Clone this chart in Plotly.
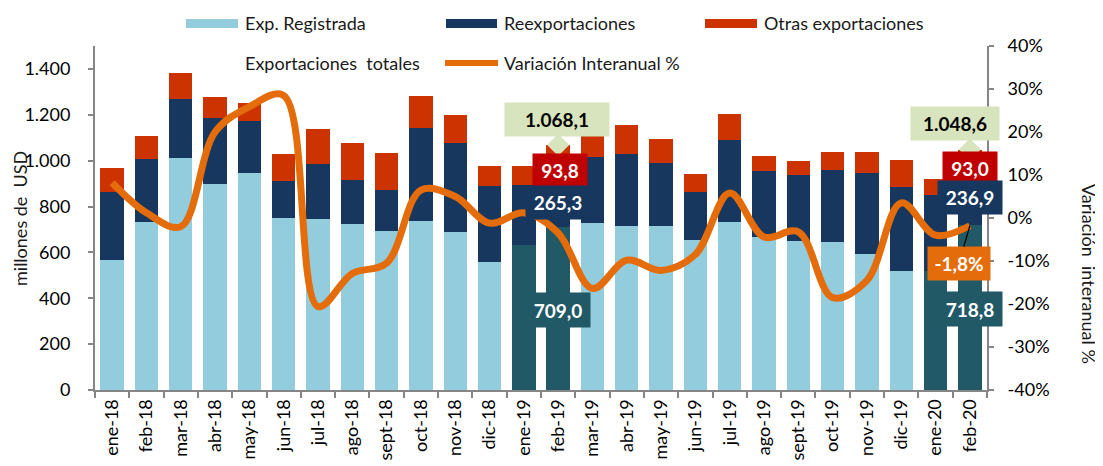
import plotly.graph_objects as go

# --- data -------------------------------------------------------------------
meses = ["ene-18", "feb-18", "mar-18", "abr-18", "may-18", "jun-18", "jul-18",
         "ago-18", "sept-18", "oct-18", "nov-18", "dic-18", "ene-19", "feb-19",
         "mar-19", "abr-19", "may-19", "jun-19", "jul-19", "ago-19", "sept-19",
         "oct-19", "nov-19", "dic-19", "ene-20", "feb-20"]

# millones de USD
registrada = [567, 732, 1010, 897, 947, 751, 745, 723, 693, 738, 687, 557, 633,
              709.0, 730, 713, 713, 655, 732, 669, 650, 646, 593, 519, 520, 718.8]
reexportaciones = [295, 276, 261, 287, 224, 159, 240, 193, 179, 405, 390, 334, 261,
                   265.3, 285, 316, 275, 209, 357, 285, 287, 312, 354, 367, 330, 236.9]
otras = [107, 101, 113, 95, 79, 117, 152, 159, 163, 140, 123, 84, 81,
         93.8, 142, 128, 106, 76, 114, 67, 60, 78, 89, 119, 70, 93.0]

# variación interanual de las exportaciones totales, %
variacion = [8.2, 1.2, -2.0, 20.0, 25.9, 28.5, -20.6, -12.9, -10.5, 6.5, 5.0, -1.2,
             1.2, -3.5, -16.4, -9.8, -12.2, -8.5, 5.8, -4.4, -3.2, -18.5, -14.5,
             3.5, -4.0, -1.8]

# meses con barra destacada; meses con etiquetas y su total publicado
destacados = ["ene-19", "feb-19", "ene-20", "feb-20"]
etiquetados = ["feb-19", "feb-20"]
totales_etiquetados = [1068.1, 1048.6]

y_tickvals = [0, 200, 400, 600, 800, 1000, 1200, 1400]
y_ticktext = ["0", "200", "400", "600", "800", "1.000", "1.200", "1.400"]
y2_tickvals = [-40, -30, -20, -10, 0, 10, 20, 30, 40]
y2_ticktext = ["-40%", "-30%", "-20%", "-10%", "0%", "10%", "20%", "30%", "40%"]

# --- style ------------------------------------------------------------------
C_REG = "#93CDDD"
C_REG_DEST = "#215967"
C_REEXP = "#17375E"
C_OTRAS = "#CC3300"
C_OTRAS_LBL = "#C00000"
C_LINEA = "#E46C0A"
C_TOTAL = "#D7E4BD"
C_EJE = "#868686"
FONT = "Lato"

W, H = 1103, 466
OFF = 8  # the page body margin shifts the figure by this much
L, R, T, B = 95, 987, 46, 390  # wanted plot area, in page pixels


def fx(px):
    return (px - L) / (R - L)


def fy(py):
    return (B - py) / (B - T)


def fmt(v, dec=1):
    s = f"{v:,.{dec}f}"
    return s.replace(",", "X").replace(".", ",").replace("X", ".")


col_reg = [C_REG_DEST if m in destacados else C_REG for m in meses]

fig = go.Figure()
fig.add_trace(go.Bar(x=meses, y=registrada, name="Exp. Registrada",
                     marker={"color": col_reg, "line": {"width": 0}}))
fig.add_trace(go.Bar(x=meses, y=reexportaciones, name="Reexportaciones",
                     marker={"color": C_REEXP, "line": {"width": 0}}))
fig.add_trace(go.Bar(x=meses, y=otras, name="Otras exportaciones",
                     marker={"color": C_OTRAS, "line": {"width": 0}}))

# the "Exportaciones totales" series only shows its callout pointer
fig.add_trace(go.Scatter(x=etiquetados, y=totales_etiquetados,
                         mode="markers", name="Exportaciones totales",
                         marker={"symbol": "diamond", "size": 17, "color": C_TOTAL}))

fig.add_trace(go.Scatter(x=meses, y=variacion, yaxis="y2", mode="lines",
                         name="Variación Interanual %",
                         line={"color": C_LINEA, "width": 7, "shape": "spline",
                               "smoothing": 1.0}))


# --- data labels ------------------------------------------------------------
def caja(x, y, text, bg, fg, w, h, xs=0, ys=0, yref="y"):
    fig.add_annotation(x=x, y=y, yref=yref, text=f"<b>{text}</b>", showarrow=False,
                       bgcolor=bg, font={"family": FONT, "size": 19, "color": fg},
                       width=w, height=h, borderpad=0, xshift=xs, yshift=ys,
                       xanchor="center", yanchor="middle")


for k, m in enumerate(etiquetados):
    i = meses.index(m)
    primero = k == 0
    caja(m, totales_etiquetados[k], fmt(totales_etiquetados[k]), C_TOTAL, "black",
         104 if primero else 88, 33, xs=-1 if primero else -15, ys=26)
    caja(m, registrada[i] + reexportaciones[i], fmt(otras[i]), C_OTRAS_LBL, "white",
         54, 32, xs=2 if primero else 0, ys=-3 if primero else 3)
    caja(m, registrada[i] + reexportaciones[i] / 2, fmt(reexportaciones[i]), C_REEXP,
         "white", 64, 33, ys=-6 if primero else 0)
    caja(m, registrada[i] / 2, fmt(registrada[i]), C_REG_DEST, "white", 64, 34, ys=-1)

ult = len(meses) - 1
fig.add_annotation(x=meses[ult], y=variacion[ult], yref="y2",
                   text=f"<b>{fmt(variacion[ult])}%</b>", showarrow=True,
                   arrowhead=0, arrowwidth=1.2, arrowcolor="black", ax=-11, ay=38,
                   bgcolor=C_LINEA, font={"family": FONT, "size": 19, "color": "white"},
                   width=62, height=33, borderpad=0)

# --- legend (drawn by hand to get the wide flat swatches) --------------------
ley_font = {"family": FONT, "size": 18, "color": "#1a1a1a"}
for x0, x1, color, texto in [(186, 238, C_REG, "Exp. Registrada"),
                             (446, 497, C_REEXP, "Reexportaciones"),
                             (705, 757, C_OTRAS, "Otras exportaciones")]:
    fig.add_shape(type="rect", xref="paper", yref="paper", x0=fx(x0), x1=fx(x1),
                  y0=fy(28), y1=fy(19), fillcolor=color, line={"width": 0})
    fig.add_annotation(xref="paper", yref="paper", x=fx(x1 + 5), y=fy(23), text=texto,
                       showarrow=False, xanchor="left", yanchor="middle", font=ley_font)
fig.add_annotation(xref="paper", yref="paper", x=fx(243), y=fy(63),
                   text="Exportaciones\u00a0\u00a0totales", showarrow=False,
                   xanchor="left", yanchor="middle", font=ley_font)
fig.add_shape(type="line", xref="paper", yref="paper", x0=fx(445), x1=fx(498),
              y0=fy(63), y1=fy(63), line={"color": C_LINEA, "width": 6})
fig.add_annotation(xref="paper", yref="paper", x=fx(502), y=fy(63),
                   text="Variación Interanual %", showarrow=False,
                   xanchor="left", yanchor="middle", font=ley_font)

# axis titles
fig.add_annotation(xref="paper", yref="paper", x=fx(20), y=fy(219),
                   text="millones de\u00a0\u00a0USD", textangle=-90, showarrow=False,
                   xanchor="center", yanchor="middle", font=ley_font)
fig.add_annotation(xref="paper", yref="paper", x=fx(1089), y=fy(274),
                   text="Variación\u00a0\u00a0interanual %", textangle=90,
                   showarrow=False, xanchor="center", yanchor="middle", font=ley_font)

eje = dict(showline=True, linecolor=C_EJE, linewidth=2, ticks="outside",
           tickcolor=C_EJE, tickwidth=2, ticklen=5, showgrid=False, zeroline=False,
           tickfont={"family": FONT, "size": 18, "color": "black"})

fig.update_layout(
    width=W, height=H,
    margin={"l": L - OFF, "r": W - R + OFF, "t": T - OFF, "b": H - B + OFF, "pad": 0},
    barmode="stack", bargap=0.32,
    showlegend=False,
    plot_bgcolor="white", paper_bgcolor="white",
    font={"family": FONT, "size": 18, "color": "black"},
    xaxis=dict(eje, type="category", tickangle=-90, tickson="boundaries", ticklen=6,
               range=[-0.5, len(meses) - 0.5]),
    yaxis=dict(eje, range=[0, 1500], tickvals=y_tickvals, ticktext=y_ticktext,
               ticklabelstandoff=14),
    yaxis2=dict(eje, overlaying="y", side="right", range=[-40, 40],
                tickvals=y2_tickvals, ticktext=y2_ticktext, ticklabelstandoff=10),
)

fig.write_html("out.html")
